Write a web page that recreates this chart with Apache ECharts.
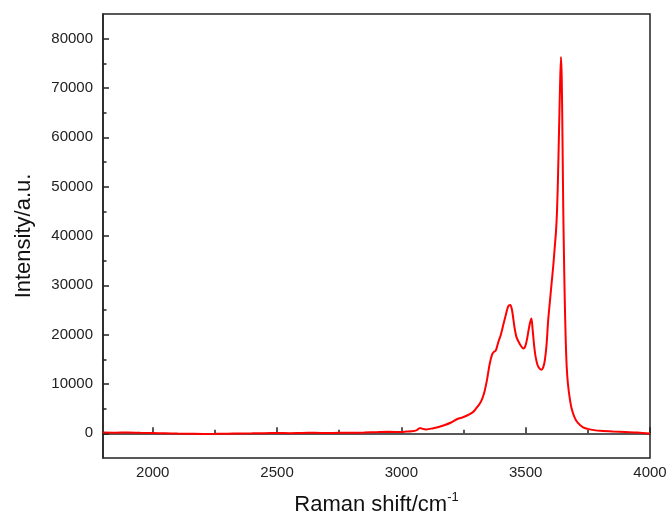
<!DOCTYPE html>
<html>
<head>
<meta charset="utf-8">
<script src="https://cdn.jsdelivr.net/npm/echarts@6/dist/echarts.min.js"></script>
<style>
  html, body { margin: 0; padding: 0; background: #fff; }
  #chart { width: 668px; height: 515px; }
</style>
</head>
<body>
<div id="chart"></div>
<script>
  // Raman spectrum
  var ramanShift = [1800, 1850, 1900, 1950, 2000, 2050, 2100, 2150, 2200, 2250, 2300, 2350, 2400, 2450,
    2500, 2550, 2600, 2650, 2700, 2750, 2800, 2850, 2900, 2950, 3000, 3020, 3040, 3060, 3075, 3085,
    3100, 3125, 3150, 3175, 3200, 3225, 3250, 3275, 3290, 3300, 3315, 3325, 3335, 3345, 3355, 3365,
    3372, 3380, 3390, 3400, 3410, 3420, 3430, 3438, 3445, 3455, 3463, 3472, 3480, 3490, 3498, 3505,
    3512, 3518, 3523, 3528, 3534, 3540, 3548, 3556, 3563, 3570, 3577, 3584, 3590, 3597, 3604, 3611,
    3617, 3622, 3626, 3630, 3634, 3638, 3642, 3645, 3648, 3651, 3654, 3657, 3661, 3665, 3670, 3677,
    3685, 3697, 3710, 3731, 3750, 3775, 3800, 3850, 3900, 3950, 4000];
  var intensity = [150, 120, 180, 100, 60, 20, -40, -80, -120, -100, -60, -20, 0, 40,
    60, 40, 80, 100, 60, 120, 100, 160, 240, 300, 280, 350, 420, 600, 1100, 900,
    800, 1000, 1300, 1700, 2200, 2900, 3300, 3900, 4400, 5000, 6000, 7000, 8600, 11000, 14000, 16000,
    16500, 16800, 18500, 20000, 22000, 24000, 25800, 26000, 25000, 21500, 19500, 18500, 17800, 17200, 17600, 19000,
    21000, 22500, 23300, 21000, 17800, 15500, 13800, 13100, 12900, 13300, 14800, 18000, 22600, 26500, 30300, 34000,
    37800, 41000, 45000, 52000, 61000, 70000, 76300, 72000, 60000, 46000, 36000, 27500, 19000, 13500, 10000, 7200,
    5000, 3200, 2100, 1200, 900, 650, 500, 350, 250, 150, -50];

  var xMajorTicks = [2000, 2500, 3000, 3500, 4000];
  var xMinorTicks = [2250, 2750, 3250, 3750];
  var yMajorTicks = [0, 10000, 20000, 30000, 40000, 50000, 60000, 70000, 80000];
  var yMinorTicks = [5000, 15000, 25000, 35000, 45000, 55000, 65000, 75000];

  var xMin = 1800, xMax = 4000, yMin = -5000, yMax = 85000;

  var points = ramanShift.map(function (x, i) { return [x, intensity[i]]; });

  var myChart = echarts.init(document.getElementById('chart'));
  var axisColor = '#222';
  var plain = function (v) { return String(v); };
  var option = {
    animation: false,
    grid: {
      left: 103, right: 18, top: 14, bottom: 57,
      outerBoundsMode: 'none', containLabel: false,
      show: true, borderColor: axisColor, borderWidth: 1.5
    },
    xAxis: [
      {
        type: 'value', min: xMin, max: xMax,
        name: 'Raman shift/cm{sup|-1}',
        nameLocation: 'middle', nameGap: 33,
        nameTextStyle: {
          fontFamily: 'Liberation Sans', fontSize: 22, color: '#111',
          rich: { sup: { fontSize: 13, verticalAlign: 'top', padding: [0, 0, 14, 0], color: '#111' } }
        },
        axisLine: { show: true, lineStyle: { color: axisColor, width: 1.5 } },
        axisTick: { show: true, inside: true, length: 6, customValues: xMajorTicks, lineStyle: { color: axisColor, width: 1.5 } },
        axisLabel: { customValues: xMajorTicks, formatter: plain, fontFamily: 'Liberation Sans', fontSize: 15, color: '#222', margin: 7 },
        splitLine: { show: false }
      },
      {
        type: 'value', min: xMin, max: xMax, position: 'bottom',
        axisLine: { show: false },
        axisTick: { show: true, inside: true, length: 3.5, customValues: xMinorTicks, lineStyle: { color: axisColor, width: 1.5 } },
        axisLabel: { show: false },
        splitLine: { show: false }
      }
    ],
    yAxis: [
      {
        type: 'value', min: yMin, max: yMax,
        name: 'Intensity/a.u.',
        nameLocation: 'middle', nameGap: 68,
        nameTextStyle: { fontFamily: 'Liberation Sans', fontSize: 22, color: '#111' },
        axisLine: { show: true, lineStyle: { color: axisColor, width: 1.5 } },
        axisTick: { show: true, inside: true, length: 6, customValues: yMajorTicks, lineStyle: { color: axisColor, width: 1.5 } },
        axisLabel: { customValues: yMajorTicks, formatter: plain, fontFamily: 'Liberation Sans', fontSize: 15, color: '#222', margin: 10 },
        splitLine: { show: false }
      },
      {
        type: 'value', min: yMin, max: yMax, position: 'left',
        axisLine: { show: false },
        axisTick: { show: true, inside: true, length: 3.5, customValues: yMinorTicks, lineStyle: { color: axisColor, width: 1.5 } },
        axisLabel: { show: false },
        splitLine: { show: false }
      }
    ],
    series: [
      {
        type: 'line',
        xAxisIndex: 0, yAxisIndex: 0,
        data: points,
        showSymbol: false,
        smooth: 0.3,
        lineStyle: { color: '#ff0000', width: 2 },
        z: 10
      }
    ]
  };
  myChart.setOption(option);
</script>
</body>
</html>
